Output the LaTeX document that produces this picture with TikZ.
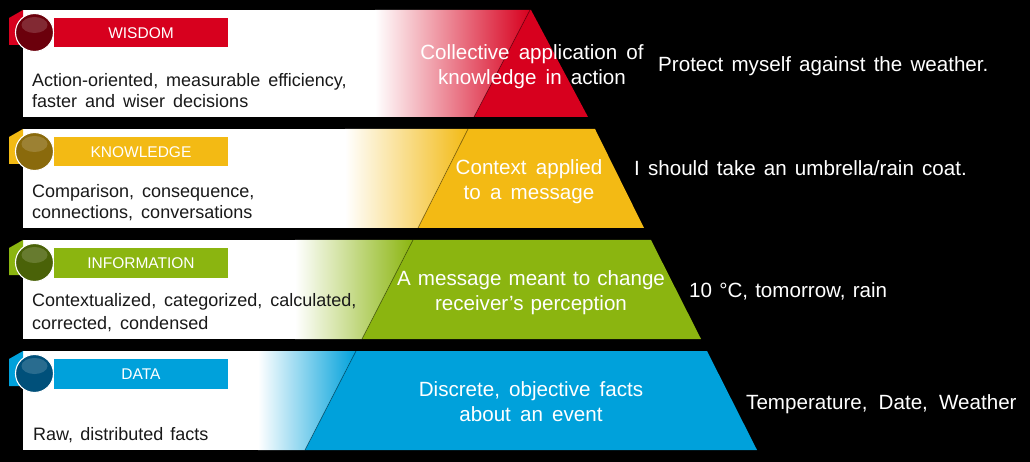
\documentclass[tikz,border=0pt]{standalone}
\usepackage{fontspec}
\setmainfont{Liberation Sans}
\newcommand{\txt}[2]{\fontsize{#1}{25}\selectfont\spaceskip=#2\fontdimen2\font\relax}
\definecolor{cw}{HTML}{D7001E}\definecolor{cwd}{HTML}{6B000C}
\definecolor{ck}{HTML}{F3BA14}\definecolor{ckd}{HTML}{8A6A0C}
\definecolor{ci}{HTML}{8BB510}\definecolor{cid}{HTML}{4A6208}
\definecolor{cd}{HTML}{00A1DB}\definecolor{cdd}{HTML}{00507A}
\tikzset{
 body/.style={anchor=base west,inner sep=0,font=\txt{18}{1.6},text=black!90},
 title/.style={anchor=center,inner sep=0,font=\fontsize{15.5}{15.5}\selectfont,text=white},
 mid/.style={anchor=center,align=center,inner sep=0,font=\txt{20.6}{1.6},text=white},
 side/.style={anchor=base west,inner sep=0,font=\txt{20.6}{1.6},text=white},
}
% #1 color #2 dark #3 top #4 bottom #5 grad start #6 slant top x #7 slant bottom x #8 right top x #9 right bottom x
\newcommand{\band}[9]{%
 \fill[white] (23,#3) rectangle (#5+1,#4);
 \begin{scope}
  \clip (#5,#3) -- (#6,#3) -- (#7,#4) -- (#5,#4) -- cycle;
  \shade[left color=white,right color=#1] (#5,#3) rectangle (#6,#4);
 \end{scope}
 \fill[#1] (#6,#3) -- (#8,#3) -- (#9,#4) -- (#7,#4) -- cycle;
 \draw[black,opacity=.35,line width=.8pt] (#6,#3) -- (#7,#4);
 \fill[#1] (9,#3+8) -- (23,#3) -- (23,#3+35) -- (9,#3+35) -- cycle;
 \fill[#1] (54,#3+8) rectangle (228,#3+37.5);
 \fill[#2] (34.5,#3+22.5) circle (19);
 \fill[white,opacity=.16] (34.5,#3+15) ellipse (13 and 8);
 \draw[white,line width=1.1pt] (34.5,#3+22.5) circle (19);
}
\begin{document}
\begin{tikzpicture}[x=1pt,y=-1pt]
\useasboundingbox (0,0) rectangle (1030,462);
\fill[black] (0,0) rectangle (1030,462);
\band{cw}{cwd}{10}{117}{375}{530}{474}{531}{588}
\band{ck}{ckd}{129}{228}{345}{468}{418}{595}{644}
\band{ci}{cid}{240}{339}{295}{413}{362}{651}{701}
\band{cd}{cdd}{351}{450}{258}{356}{305}{707}{757}

\node[title] (tw) at (141,33) {WISDOM};
\node[title] (tk) at (141,152) {KNOWLEDGE};
\node[title] (ti) at (141,263) {INFORMATION};
\node[title] (td) at (141,374) {DATA};

\node[body] (bw1) at (32,87) {Action-oriented, measurable efficiency,};
\node[body] (bw2) at (32,108) {faster and wiser decisions};
\node[body] (bk1) at (32,198) {Comparison, consequence,};
\node[body] (bk2) at (32,219) {connections, conversations};
\node[body] (bi1) at (32,306) {Contextualized, categorized, calculated,};
\node[body] (bi2) at (32,329) {corrected, condensed};
\node[body,font=\txt{18}{1.42}] (bd1) at (33,440) {Raw, distributed facts};

\node[mid] (mw) at (532,66.5) {Collective application of\\knowledge in action};
\node[mid] (mk) at (529,182) {Context applied\\to a message};
\node[mid,font=\txt{20.6}{1.25}] (mi) at (531,292.5) {A message meant to change\\receiver’s perception};
\node[mid] (md) at (531,402) {Discrete, objective facts\\about an event};

\node[side,font=\txt{20.6}{1.42}] (sw) at (658,72) {Protect myself against the weather.};
\node[side,font=\txt{20.6}{1.42}] (sk) at (634,176) {I should take an umbrella/rain coat.};
\node[side,font=\txt{20.6}{1.25}] (si) at (689,297) {10 °C, tomorrow, rain};
\node[side,font=\txt{20.6}{1.95}] (sd) at (746,409) {Temperature, Date, Weather};
\end{tikzpicture}
\end{document}
